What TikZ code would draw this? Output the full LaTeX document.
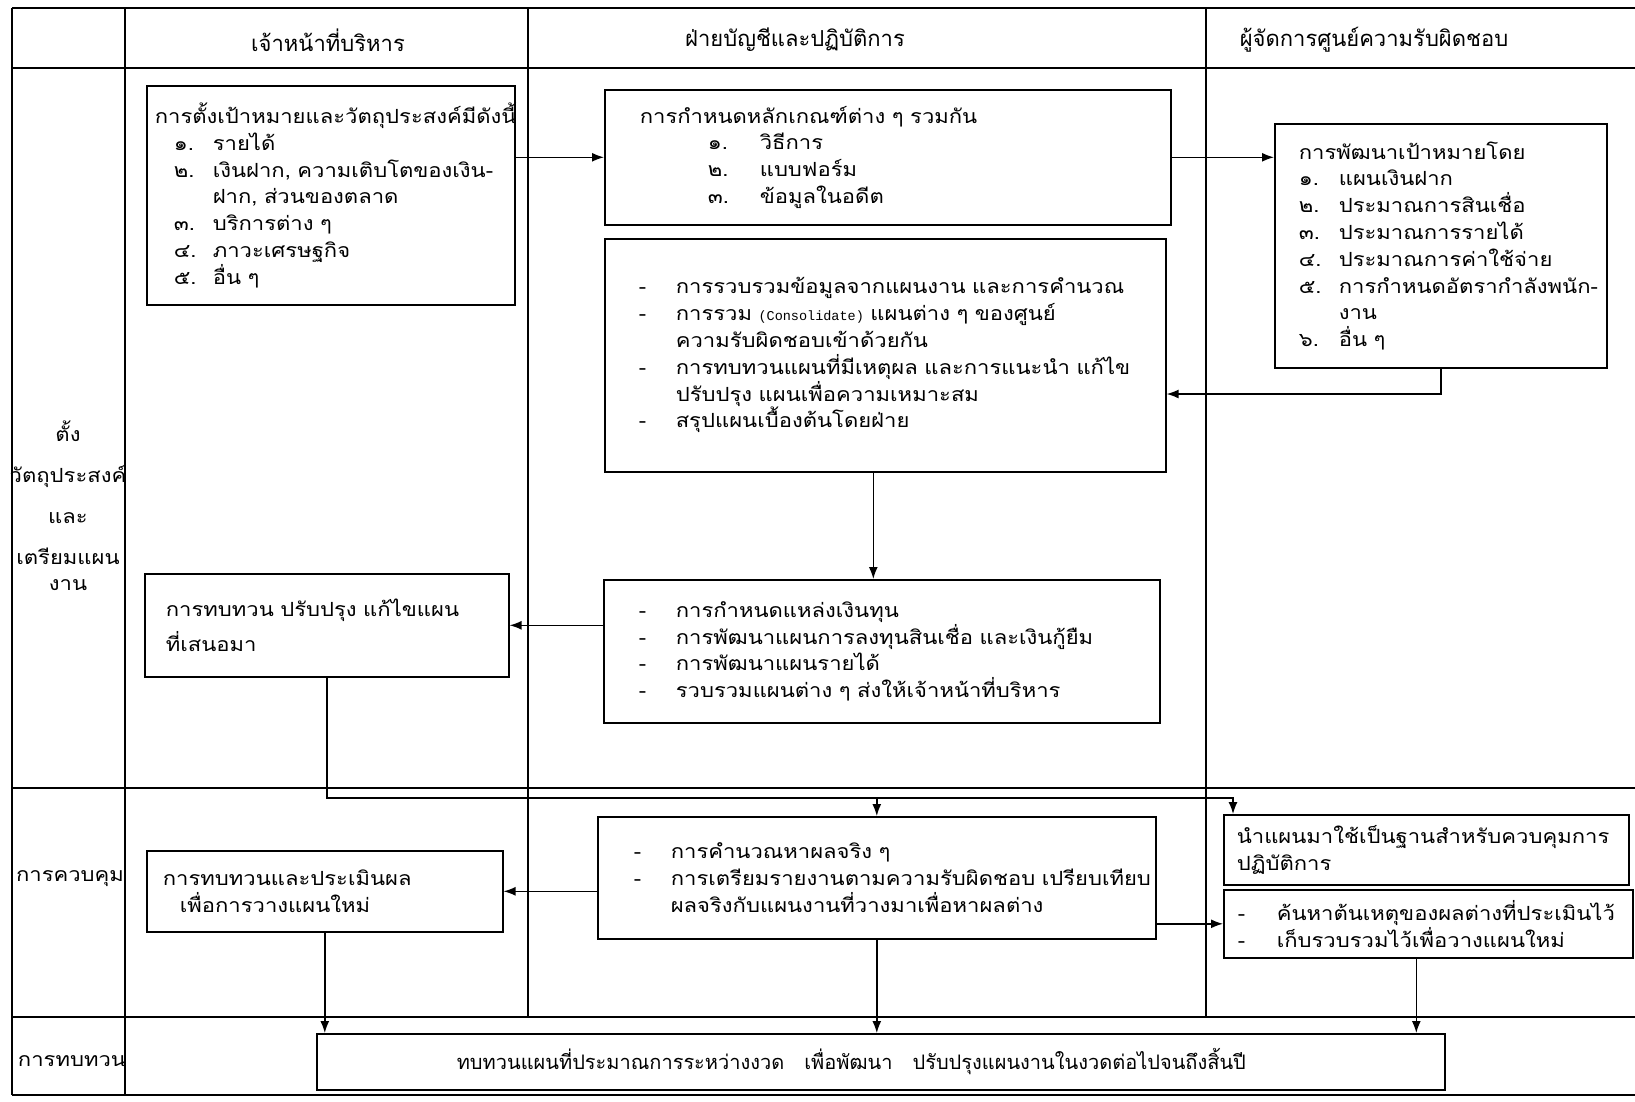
\documentclass[tikz,border=0pt]{standalone}
\usepackage{fontspec}
\setmainfont[Script=Thai, FakeStretch=1.13]{Loma}
\newfontfamily\headfont[Script=Thai]{Loma}
\setmonofont{Liberation Mono}
\usetikzlibrary{arrows.meta, positioning, calc}

\newcommand{\itemdash}{\makebox[37pt][l]{-}}
\newcommand{\itemnum}[2][40pt]{\makebox[#1][l]{#2}}

\begin{document}
\begin{tikzpicture}[
    x=1pt, y=-1pt,
    box/.style={
        rectangle,
        draw=black,
        line width=1.6pt,
        anchor=north west,
        align=left,
        font=\fontsize{19.5}{26.8}\selectfont
    },
    rowlabel/.style={align=center, font=\fontsize{19.5}{26.8}\selectfont},
    head/.style={font=\headfont\fontsize{22}{26}\selectfont},
    rule/.style={draw=black, line width=1.4pt},
    heavyrule/.style={draw=black, line width=2.6pt},
    line/.style={draw=black, -{Latex[length=12pt, width=9pt]}, line width=1.4pt}
]
    \useasboundingbox (0,0) rectangle (1635,1101);

    \draw[heavyrule] (12,8) -- (1635,8);
    \draw[heavyrule] (12,68) -- (1635,68);
    \draw[rule] (12,788) -- (1635,788);
    \draw[rule] (12,1017) -- (1635,1017);
    \draw[heavyrule] (12,1095) -- (1635,1095);
    \draw[rule] (12,8) -- (12,1095);
    \draw[rule] (125,8) -- (125,1095);
    \draw[rule] (528,8) -- (528,1017);
    \draw[rule] (1206,8) -- (1206,1017);

    \node[head] (hexec) at (328,40) {เจ้าหน้าที่บริหาร};
    \node[head] (hacct) at (795,40) {ฝ่ายบัญชีและปฏิบัติการ};
    \node[head] (hmgr) at (1374,40) {ผู้จัดการศูนย์ความรับผิดชอบ};

    \node[rowlabel] (rplan) at (68,506) {ตั้ง\\[14pt]วัตถุประสงค์\\[14pt]และ\\[14pt]เตรียมแผน\\งาน};
    \node[rowlabel] (rcontrol) at (70,879) {การควบคุม};
    \node[rowlabel] (rreview) at (72,1061) {การทบทวน};

    \node[box, inner xsep=8pt, text width=352pt, minimum height=219pt] (goals) at (146,85) {%
        การตั้งเป้าหมายและวัตถุประสงค์มีดังนี้\\
        \hspace*{19pt}\itemnum[39pt]{๑.}รายได้\\
        \hspace*{19pt}\itemnum[39pt]{๒.}เงินฝาก, ความเติบโตของเงิน-\\
        \hspace*{58pt}ฝาก, ส่วนของตลาด\\
        \hspace*{19pt}\itemnum[39pt]{๓.}บริการต่าง ๆ\\
        \hspace*{19pt}\itemnum[39pt]{๔.}ภาวะเศรษฐกิจ\\
        \hspace*{19pt}\itemnum[39pt]{๕.}อื่น ๆ};
    \node[box, inner xsep=35pt, text width=496pt, minimum height=135pt] (rules) at (604,89) {%
        การกำหนดหลักเกณฑ์ต่าง ๆ รวมกัน\\
        \hspace*{68pt}\itemnum[52pt]{๑.}วิธีการ\\
        \hspace*{68pt}\itemnum[52pt]{๒.}แบบฟอร์ม\\
        \hspace*{68pt}\itemnum[52pt]{๓.}ข้อมูลในอดีต};
    \node[box, inner xsep=34pt, text width=493pt, minimum height=233pt] (merge) at (604,238) {%
        \itemdash การรวบรวมข้อมูลจากแผนงาน และการคำนวณ\\
        \itemdash การรวม {\fontsize{13.5}{26.8}\ttfamily (Consolidate)} แผนต่าง ๆ ของศูนย์\\
        \hspace*{37pt}ความรับผิดชอบเข้าด้วยกัน\\
        \itemdash การทบทวนแผนที่มีเหตุผล และการแนะนำ แก้ไข\\
        \hspace*{37pt}ปรับปรุง แผนเพื่อความเหมาะสม\\
        \itemdash สรุปแผนเบื้องต้นโดยฝ่าย};
    \node[box, inner xsep=24pt, text width=284pt, minimum height=244pt] (targets) at (1274,123) {%
        การพัฒนาเป้าหมายโดย\\
        \itemnum{๑.}แผนเงินฝาก\\
        \itemnum{๒.}ประมาณการสินเชื่อ\\
        \itemnum{๓.}ประมาณการรายได้\\
        \itemnum{๔.}ประมาณการค่าใช้จ่าย\\
        \mbox{\itemnum{๕.}การกำหนดอัตรากำลังพนัก-}\\
        \hspace*{40pt}งาน\\
        \itemnum{๖.}อื่น ๆ};
    \node[box, inner xsep=21pt, text width=322pt, minimum height=103pt] (revise) at (144,573) {%
        การทบทวน ปรับปรุง แก้ไขแผน\\[8pt]
        ที่เสนอมา};
    \node[box, inner xsep=35pt, text width=486pt, minimum height=143pt] (funds) at (603,579) {%
        \itemdash การกำหนดแหล่งเงินทุน\\
        \itemdash การพัฒนาแผนการลงทุนสินเชื่อ และเงินกู้ยืม\\
        \itemdash การพัฒนาแผนรายได้\\
        \itemdash รวบรวมแผนต่าง ๆ ส่งให้เจ้าหน้าที่บริหาร};
    \node[box, inner xsep=16pt, text width=324pt, minimum height=81pt] (evaluate) at (146,850) {%
        การทบทวนและประเมินผล\\
        \hspace*{17pt}เพื่อการวางแผนใหม่};
    \node[box, inner xsep=36pt, text width=486pt, minimum height=122pt] (actual) at (597,816) {%
        \itemdash การคำนวณหาผลจริง ๆ\\
        \mbox{\itemdash การเตรียมรายงานตามความรับผิดชอบ เปรียบเทียบ}\\
        \hspace*{37pt}ผลจริงกับแผนงานที่วางมาเพื่อหาผลต่าง};
    \node[box, inner xsep=13pt, text width=379pt, minimum height=70pt] (basis) at (1223,814) {%
        นำแผนมาใช้เป็นฐานสำหรับควบคุมการ\\
        ปฏิบัติการ};
    \node[box, inner xsep=14pt, text width=381pt, minimum height=68pt] (causes) at (1223,889) {%
        \itemnum[39pt]{-}ค้นหาต้นเหตุของผลต่างที่ประเมินไว้\\
        \itemnum[39pt]{-}เก็บรวบรวมไว้เพื่อวางแผนใหม่};
    \node[box, inner xsep=140pt, inner ysep=0pt, text width=848pt, minimum height=56pt, font=\headfont\fontsize{20}{24}\selectfont] (interim) at (316,1033) {%
        ทบทวนแผนที่ประมาณการระหว่างงวด\quad เพื่อพัฒนา\quad ปรับปรุงแผนงานในงวดต่อไปจนถึงสิ้นปี};

    \coordinate (turn) at (revise.south |- 0,798);

    \path[line] (goals.east |- rules.west) -- (rules.west);
    \path[line] (rules.east) -- (rules.east -| targets.west);
    \path[line] (targets.south) |- (merge.east |- 0,394);
    \path[line] ([xshift=-12pt]merge.south) -- ([xshift=-12pt]merge.south |- funds.north);
    \path[line] (funds.west |- revise.east) -- (revise.east);
    \path[line] (revise.south) -- (turn) -| ([xshift=10pt]basis.north west);
    \path[line] (turn -| actual.north) -- (actual.north);
    \path[line] (actual.west |- evaluate.east) -- (evaluate.east);
    \path[line] (actual.east |- causes.west) -- (causes.west);
    \path[line] (evaluate.south) -- (evaluate.south |- interim.north);
    \path[line] (actual.south) -- (actual.south |- interim.north);
    \path[line] ([xshift=-12pt]causes.south) -- ([xshift=-12pt]causes.south |- interim.north);
\end{tikzpicture}
\end{document}
